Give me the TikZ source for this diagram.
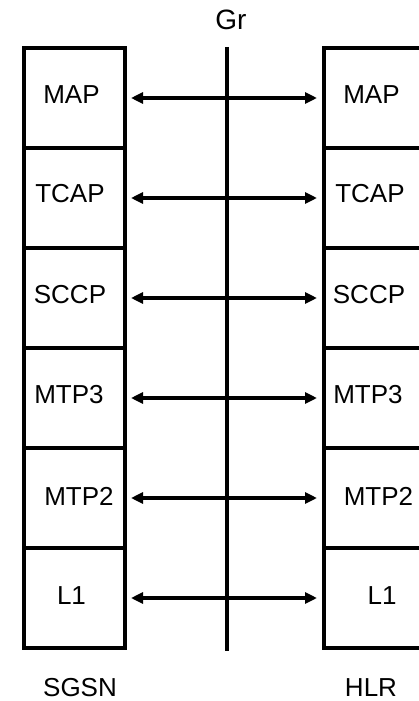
\documentclass[tikz,border=0pt]{standalone}
\usepackage{fontspec}
\setmainfont{Liberation Sans}
\usetikzlibrary{arrows.meta}
\begin{document}
\begin{tikzpicture}[x=1pt,y=-1pt,
  layer/.style={draw=black, line width=4pt, rectangle, minimum width=101pt,
    minimum height=100pt, inner sep=0pt, fill=none},
  lbl/.style={font=\fontsize{26}{30}\selectfont, inner sep=0pt, anchor=center},
  biarrow/.style={line width=3.5pt, {Triangle[length=12pt,width=11pt]}-{Triangle[length=12pt,width=11pt]},
    shorten <=4pt, shorten >=5pt},
  iface/.style={line width=4pt}]
  \useasboundingbox (0,0) rectangle (419,701);
  \clip (0,0) rectangle (419,701);

  % protocol stack of the SGSN (left)
  \node[layer] (s1) at (74.5, 98) {};
  \node[layer] (s2) at (74.5,198) {};
  \node[layer] (s3) at (74.5,298) {};
  \node[layer] (s4) at (74.5,398) {};
  \node[layer] (s5) at (74.5,498) {};
  \node[layer] (s6) at (74.5,598) {};

  % protocol stack of the HLR (right)
  \node[layer] (h1) at (374.5, 98) {};
  \node[layer] (h2) at (374.5,198) {};
  \node[layer] (h3) at (374.5,298) {};
  \node[layer] (h4) at (374.5,398) {};
  \node[layer] (h5) at (374.5,498) {};
  \node[layer] (h6) at (374.5,598) {};

  % layer names
  \node[lbl] (s1t) at (71.5, 95) {MAP};
  \node[lbl] (s2t) at (70,194) {TCAP};
  \node[lbl] (s3t) at (70,295) {SCCP};
  \node[lbl] (s4t) at (69,395) {MTP3};
  \node[lbl] (s5t) at (79,496) {MTP2};
  \node[lbl] (s6t) at (71.5,596) {L1};

  \node[lbl] (h1t) at (371.5, 95) {MAP};
  \node[lbl] (h2t) at (370,194) {TCAP};
  \node[lbl] (h3t) at (369,295) {SCCP};
  \node[lbl] (h4t) at (368,395) {MTP3};
  \node[lbl] (h5t) at (378.5,496) {MTP2};
  \node[lbl] (h6t) at (382,596) {L1};

  % Gr interface
  \coordinate (gtop) at (226.5,47);
  \coordinate (gbot) at (226.5,651);
  \draw[iface] (gtop) -- (gbot);
  \node[lbl, font=\fontsize{28}{32}\selectfont] (gr) at (231,20) {Gr};

  % peer-to-peer relations
  \foreach \i in {1,...,6}
    \draw[biarrow] (s\i.east) -- (h\i.west);

  % network element names
  \node[lbl] (sgsn) at (80,688) {SGSN};
  \node[lbl] (hlr) at (371,688) {HLR};
\end{tikzpicture}
\end{document}
